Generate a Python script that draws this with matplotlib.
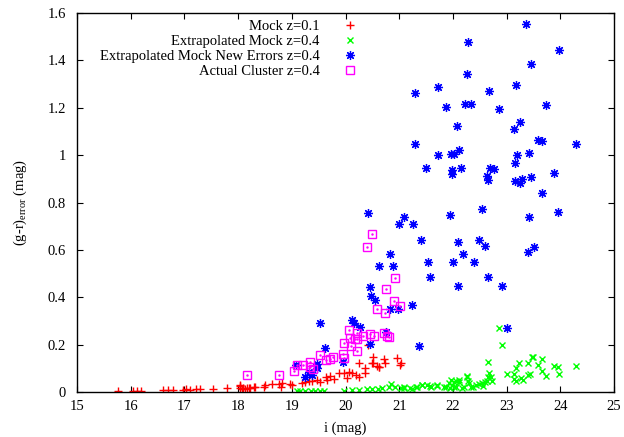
import numpy as np
import matplotlib
matplotlib.use('Agg')
from matplotlib import pyplot as plt

plt.rcParams['font.family'] = ['Liberation Serif', 'DejaVu Serif']
plt.rcParams['mathtext.fontset'] = 'custom'
plt.rcParams['mathtext.rm'] = 'Liberation Serif'
plt.rcParams['mathtext.it'] = 'Liberation Serif'

# Mock z=0.1
mock_i = [15.77, 16.05, 16.11, 16.19, 16.61, 16.70, 16.78, 16.98, 17.03, 17.10,
          17.22, 17.29, 17.53, 17.79, 18.03, 18.04, 18.09, 18.17, 18.23,
          18.04, 18.07, 18.13, 18.20, 18.29, 18.32, 18.48, 18.51, 18.63, 18.76,
          18.79, 18.82, 18.97, 19.00, 19.19, 19.24, 19.32, 19.38, 19.47, 19.52,
          19.63, 19.66, 19.72, 19.78, 19.87, 19.97, 20.06, 20.03, 20.12, 20.19,
          20.25, 20.25, 20.37, 20.37, 20.42, 20.52, 20.52, 20.62, 20.71, 20.73,
          20.96, 21.01, 21.04, 20.50, 20.59, 20.63]
mock_err = [0.006, 0.005, 0.005, 0.005, 0.008, 0.008, 0.008, 0.008, 0.011, 0.008,
            0.011, 0.011, 0.011, 0.015, 0.030, 0.018, 0.015, 0.015, 0.015,
            0.027, 0.013, 0.013, 0.016, 0.020, 0.022, 0.020, 0.030, 0.032, 0.034,
            0.022, 0.036, 0.034, 0.030, 0.037, 0.041, 0.046, 0.046, 0.051, 0.043,
            0.065, 0.051, 0.068, 0.055, 0.081, 0.081, 0.083, 0.058, 0.079, 0.072,
            0.065, 0.124, 0.100, 0.081, 0.198, 0.149, 0.121, 0.107, 0.138, 0.121,
            0.145, 0.114, 0.121, 0.124, 0.110, 0.104]

# Extrapolated Mock z=0.4
ext_i = [19.09, 19.16, 19.25, 19.35, 19.44, 19.53, 19.60,
         19.97, 20.12, 20.25, 20.40, 20.50, 20.60, 20.68, 20.81, 20.84, 20.93,
         21.03, 21.09, 21.21, 21.34, 21.43, 21.52, 21.59, 21.71, 21.83, 21.93,
         22.02, 22.11, 22.02, 22.27, 22.30, 22.43, 22.55, 22.64, 22.71,
         21.08, 21.23, 21.31, 21.42, 21.57, 21.71, 21.87, 21.95, 21.96, 22.06,
         22.11, 21.99, 22.05, 22.16, 22.21, 22.27, 22.29, 22.34, 22.38,
         22.49, 22.56, 22.60, 22.66, 22.68, 22.72,
         23.13, 23.17, 23.27, 23.30, 23.40, 23.43, 23.00, 23.14,
         23.18, 23.23, 23.39, 23.47, 23.50, 23.58, 23.66, 23.66, 23.74,
         23.88, 23.96, 23.97, 24.30, 22.66, 22.85, 22.91]
ext_err = [0.005, 0.005, 0.005, 0.005, 0.005, 0.005, 0.005,
           0.005, 0.008, 0.008, 0.011, 0.011, 0.011, 0.016, 0.022, 0.034, 0.020,
           0.016, 0.020, 0.016, 0.022, 0.030, 0.030, 0.020, 0.030, 0.022, 0.037,
           0.043, 0.051, 0.022, 0.065, 0.037, 0.030, 0.037, 0.048, 0.065,
           0.018, 0.014, 0.020, 0.028, 0.025, 0.025, 0.022, 0.018, 0.051, 0.046,
           0.043, 0.028, 0.021, 0.016, 0.020, 0.068, 0.048, 0.021, 0.022,
           0.034, 0.027, 0.041, 0.062, 0.081, 0.045,
           0.055, 0.046, 0.060, 0.052, 0.070, 0.077, 0.075, 0.076,
           0.103, 0.122, 0.122, 0.148, 0.146, 0.114, 0.138, 0.089, 0.066,
           0.110, 0.105, 0.076, 0.110, 0.127, 0.271, 0.198]

# Extrapolated Mock New Errors z=0.4
new_i = [23.36, 22.28, 23.97, 23.46, 22.27, 23.18, 21.73, 22.68, 21.29, 22.22,
         22.34, 21.88, 22.85, 23.74, 22.08, 23.25, 23.13, 23.58, 23.66, 21.29,
         24.29, 21.72, 21.97, 22.02, 22.12, 23.20, 23.41, 23.15,
         21.50, 21.98, 21.98, 22.15, 22.69, 22.76, 22.64, 22.66, 23.15, 23.24,
         23.28, 23.46, 23.89, 23.66, 20.42, 21.09, 21.00, 21.25, 21.95, 22.55,
         23.42, 23.96, 21.41, 22.10, 22.48, 22.59, 23.51, 23.40, 20.82, 22.18,
         20.62, 20.89, 21.54, 22.00, 22.39, 21.58, 22.66, 22.10, 22.92, 20.45,
         20.47, 20.54, 20.83, 20.98, 21.24,
         19.53, 20.12, 20.15, 20.27, 20.76, 20.45, 21.36, 19.61, 19.96, 19.46,
         19.46, 19.08, 19.32, 19.25, 19.38, 23.00]
new_err = [1.554, 1.480, 1.444, 1.385, 1.343, 1.298, 1.290, 1.271, 1.263, 1.217,
           1.218, 1.203, 1.196, 1.214, 1.122, 1.139, 1.111, 1.063, 1.059, 1.048,
           1.048, 1.001, 1.007, 1.007, 1.024, 1.001, 1.011, 0.965,
           0.944, 0.937, 0.921, 0.945, 0.946, 0.940, 0.911, 0.896, 0.893, 0.882,
           0.899, 0.907, 0.925, 0.840, 0.754, 0.737, 0.710, 0.710, 0.747, 0.771,
           0.738, 0.762, 0.643, 0.634, 0.643, 0.617, 0.613, 0.592, 0.584, 0.584,
           0.534, 0.530, 0.551, 0.548, 0.548, 0.487, 0.487, 0.449, 0.449, 0.443,
           0.405, 0.390, 0.352, 0.350, 0.368,
           0.290, 0.304, 0.290, 0.274, 0.254, 0.204, 0.195, 0.186, 0.128, 0.119,
           0.100, 0.114, 0.083, 0.063, 0.070, 0.271]

# Actual Cluster z=0.4
clu_i = [20.49, 20.40, 20.92, 20.75, 20.90, 21.01, 20.58, 20.73,
         20.06, 20.21, 20.09, 20.17, 20.22, 20.33, 20.45, 20.53, 20.71, 20.78,
         20.81, 19.98, 20.11, 20.22, 19.96, 19.97, 19.52, 19.63, 19.72, 19.76,
         19.04, 19.10, 19.21, 19.33, 19.33, 19.40, 18.77, 18.17]
clu_err = [0.667, 0.612, 0.480, 0.436, 0.385, 0.364, 0.350, 0.332,
           0.262, 0.250, 0.226, 0.225, 0.225, 0.238, 0.245, 0.236, 0.248, 0.236,
           0.231, 0.205, 0.194, 0.173, 0.160, 0.145, 0.155, 0.135, 0.139, 0.149,
           0.089, 0.114, 0.114, 0.128, 0.107, 0.096, 0.072, 0.072]

fig = plt.figure(figsize=(6.24, 4.37), dpi=100)
ax = fig.add_axes([0.1234, 0.103, 0.8606, 0.867])

ax.plot(mock_i, mock_err, ls='none', marker='+', color='#ff0000', ms=6, mew=1.0,
        label='Mock z=0.1')
ax.plot(ext_i, ext_err, ls='none', marker='x', color='#00ff00', ms=5, mew=1.0,
        label='Extrapolated Mock z=0.4')
ax.plot(new_i, new_err, ls='none', marker=(8, 2, 0), color='#0000ff', ms=6.5, mew=0.9,
        label='Extrapolated Mock New Errors z=0.4')
ax.plot(clu_i, clu_err, ls='none', marker='s', color='#ff00ff', mfc='none', ms=6, mew=1.0,
        label='Actual Cluster z=0.4')
ax.plot(clu_i, clu_err, ls='none', marker='.', color='#ff00ff', ms=1.5)

ax.set_xlim(15, 25)
ax.set_ylim(0, 1.6)
ax.set_xticks(np.arange(15, 26, 1))
ax.set_yticks(np.arange(0, 1.61, 0.2))
ax.set_yticklabels(['%g' % round(v, 1) for v in np.arange(0, 1.61, 0.2)])
ax.tick_params(direction='in', top=True, right=True, length=4, width=0.8,
               labelsize=10.5)
ax.tick_params(axis='y', pad=8)
ax.tick_params(axis='x', pad=6)
for s in ax.spines.values():
    s.set_linewidth(1.0)

ax.set_xlabel('i (mag)', fontsize=10.5, labelpad=6)
ax.set_ylabel(r'(g-r)$_{\rm error}$ (mag)', fontsize=10.5, labelpad=13)

ax.legend(loc='upper right', bbox_to_anchor=(0.539, 1.005), frameon=False,
          markerfirst=False, fontsize=10.5, labelspacing=0.12, handlelength=1.0,
          handletextpad=1.6, borderaxespad=0.2)

fig.savefig('out.png', dpi=100)
